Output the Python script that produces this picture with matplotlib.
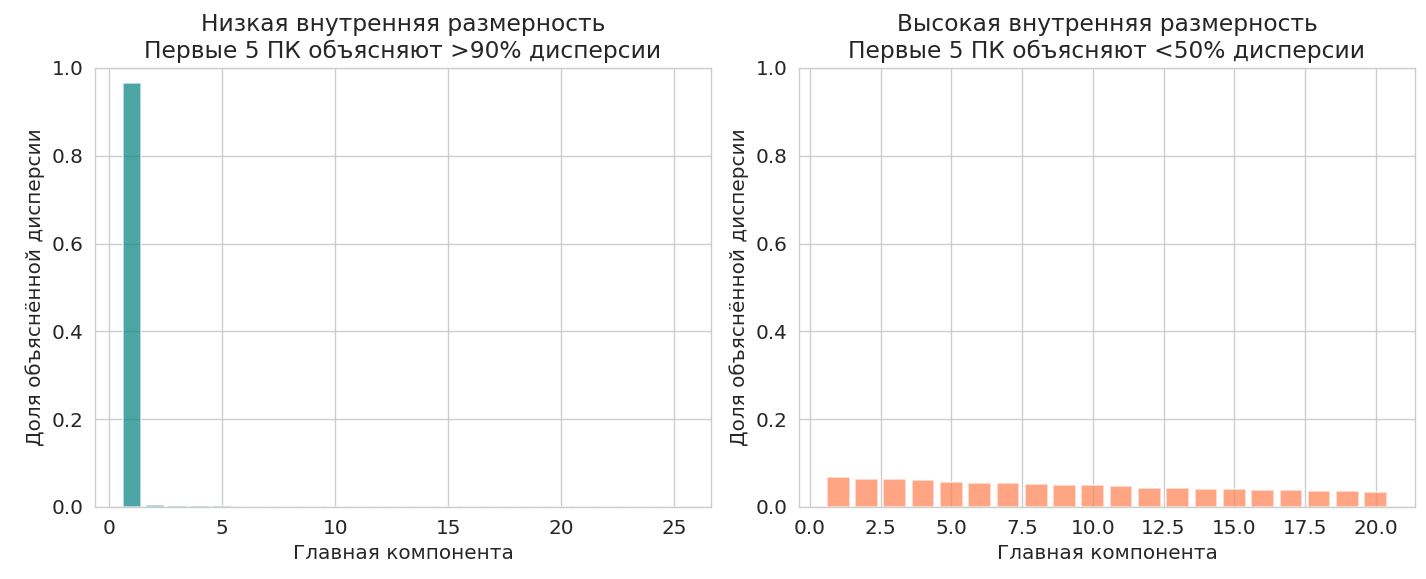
import numpy as np
import matplotlib.pyplot as plt
import seaborn as sns

sns.set_style("whitegrid")
plt.rcParams['font.family'] = ['DejaVu Sans']

# доли объяснённой дисперсии
low_components = list(range(1, 26))
low_ratio = [0.966, 0.004, 0.0012, 0.0011, 0.0011, 0.001, 0.001, 0.001, 0.0009,
             0.0009, 0.0009, 0.0008, 0.0008, 0.0008, 0.0008, 0.0007, 0.0007,
             0.0007, 0.0006, 0.0006, 0.0002, 0.0001, 0.0001, 0.0001, 0.0001]

high_components = list(range(1, 21))
high_ratio = [0.069, 0.063, 0.063, 0.061, 0.058, 0.055, 0.055, 0.052, 0.050, 0.050,
              0.047, 0.044, 0.044, 0.041, 0.041, 0.039, 0.039, 0.036, 0.036, 0.033]

titles = ["Низкая внутренняя размерность\nПервые 5 ПК объясняют >90% дисперсии",
          "Высокая внутренняя размерность\nПервые 5 ПК объясняют <50% дисперсии"]

dpi = 120
fig, axes = plt.subplots(1, 2, figsize=(1426 / dpi, 579 / dpi), dpi=dpi)

axes[0].bar(low_components, low_ratio, color='teal', alpha=0.7, edgecolor='white')
axes[1].bar(high_components, high_ratio, color='coral', alpha=0.7, edgecolor='white')

for ax, title in zip(axes, titles):
    ax.set_title(title, fontsize=14)
    ax.set_xlabel("Главная компонента", fontsize=12)
    ax.set_ylabel("Доля объяснённой дисперсии", fontsize=12)
    ax.set_ylim(0, 1)
    ax.tick_params(labelsize=12)

# положение осей подогнано под исходник
plt.subplots_adjust(left=0.0666, right=0.9923, top=0.8826, bottom=0.1244, wspace=0.1425)
plt.savefig("out.png", dpi=dpi)
